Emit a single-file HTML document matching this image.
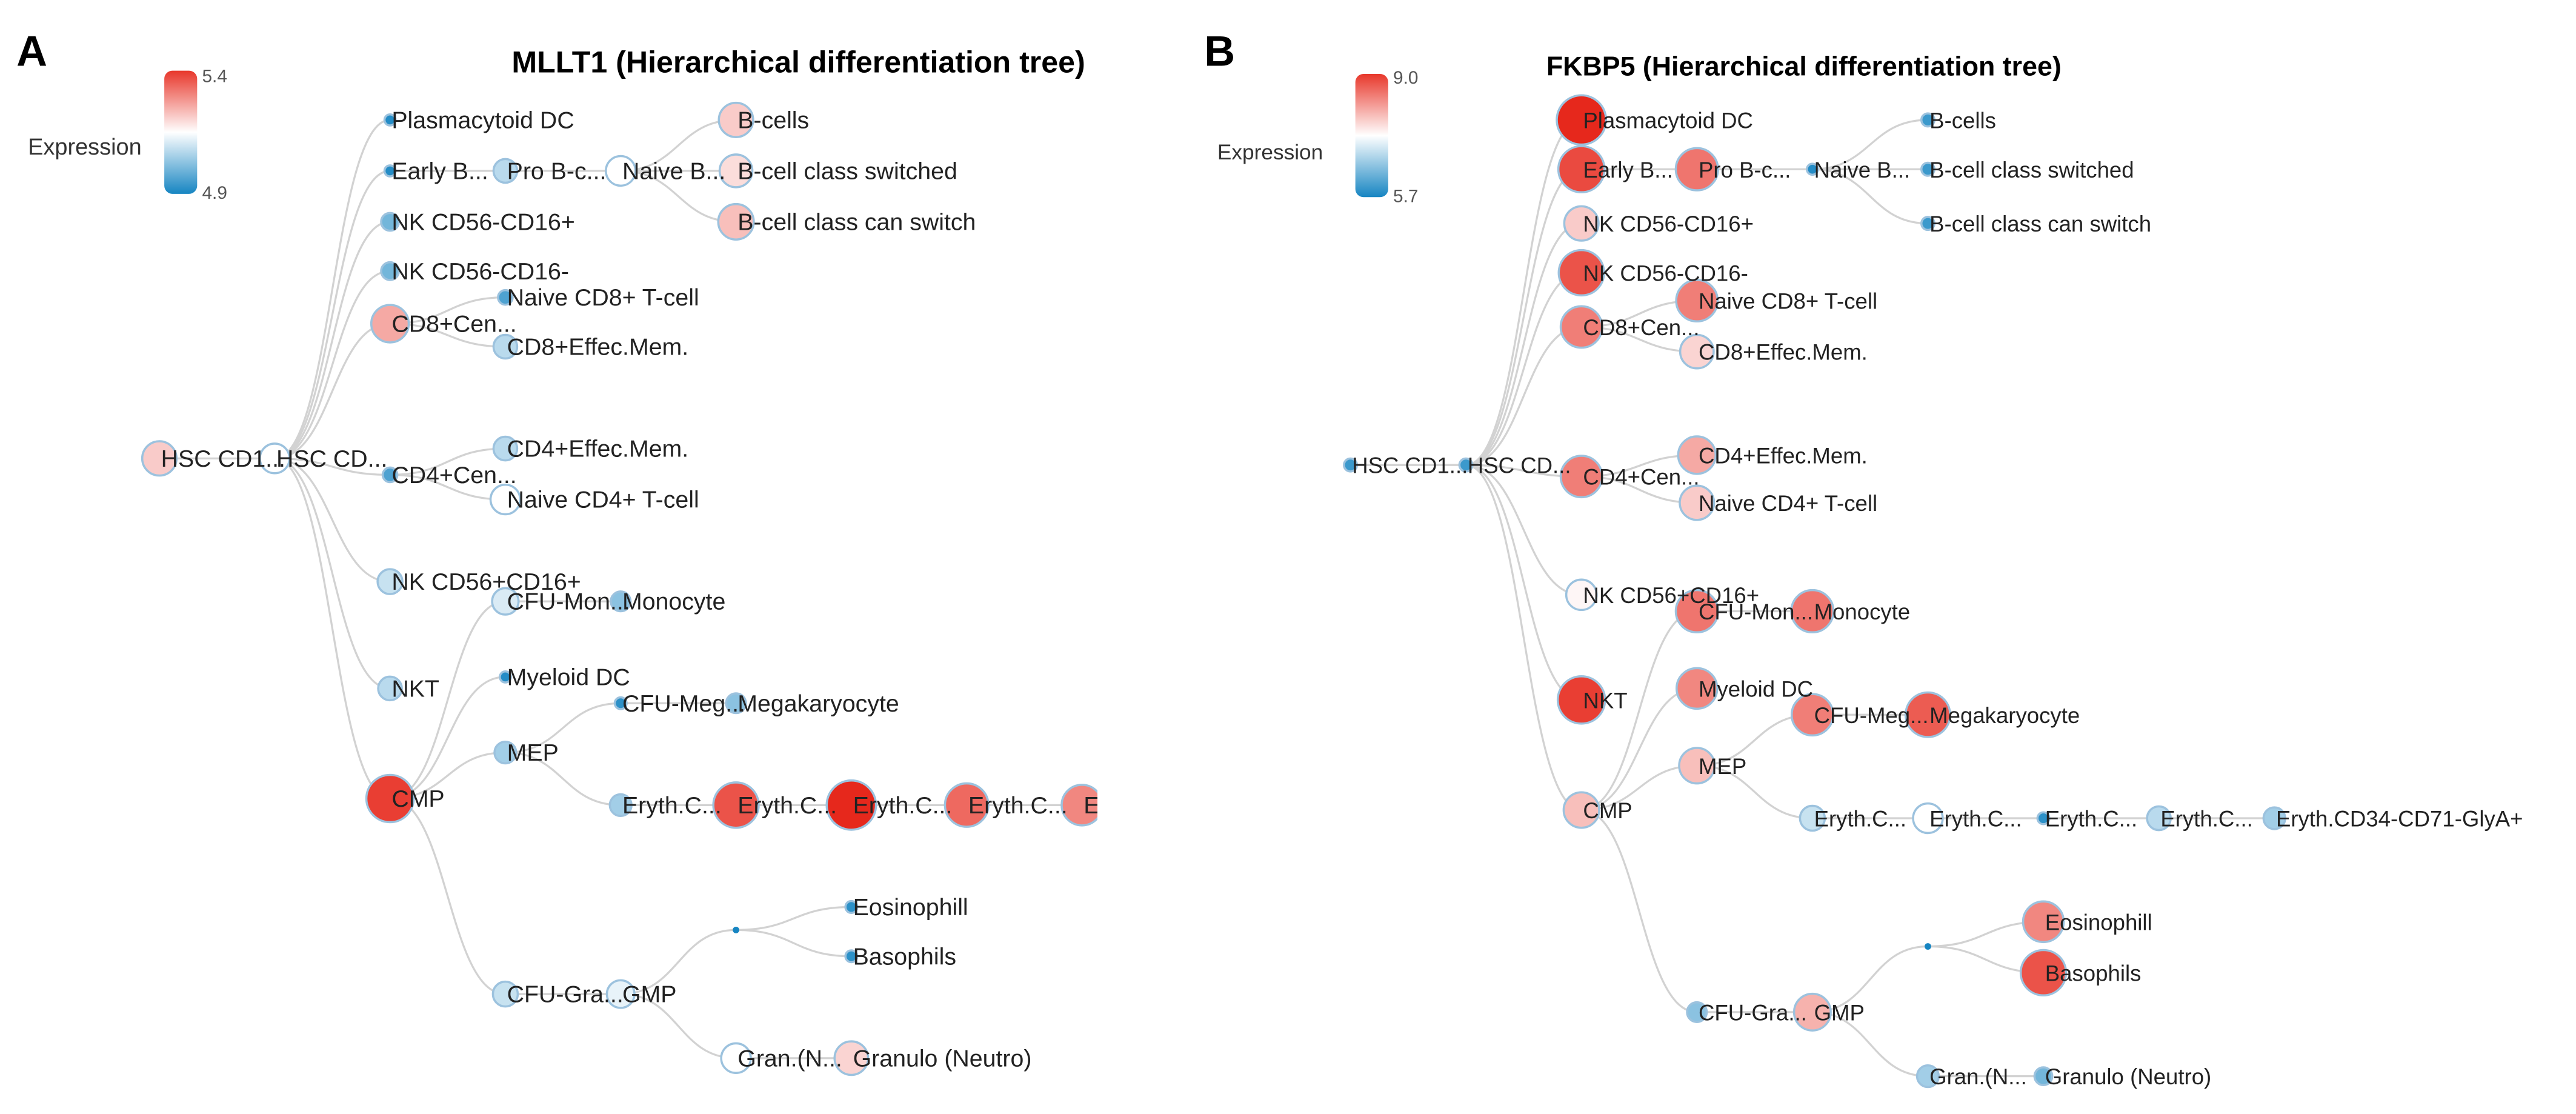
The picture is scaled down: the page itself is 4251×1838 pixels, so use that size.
<!DOCTYPE html>
<html><head><meta charset="utf-8"><style>
html,body{margin:0;padding:0;background:#fff;}
svg{display:block;font-family:"Liberation Sans",sans-serif;}
</style></head><body>
<svg id="chart" width="4251" height="1838" viewBox="0 0 1568 678" preserveAspectRatio="none" xmlns="http://www.w3.org/2000/svg">
<defs>
<linearGradient id="cbar" x1="0" y1="0" x2="0" y2="1">
<stop offset="0" stop-color="#e8372b"/><stop offset="0.5" stop-color="#ffffff"/><stop offset="1" stop-color="#1685c2"/>
</linearGradient>
<clipPath id="clipA"><rect x="0" y="0" width="668" height="678"/></clipPath>
</defs>
<text x="10" y="40" font-size="26" font-weight="bold">A</text>
<text x="733" y="40" font-size="26" font-weight="bold">B</text>
<text x="486" y="44" font-size="18.5" font-weight="bold" text-anchor="middle">MLLT1 (Hierarchical differentiation tree)</text>
<text x="1098" y="46" font-size="16.5" font-weight="bold" text-anchor="middle">FKBP5 (Hierarchical differentiation tree)</text>
<g>
<rect x="100" y="43" width="20" height="75" rx="5" fill="url(#cbar)"/>
<text x="123" y="50" font-size="11" fill="#555">5.4</text>
<text x="123" y="121" font-size="11" fill="#555">4.9</text>
<text x="17" y="94" font-size="14" fill="#333">Expression</text>
</g>
<g>
<rect x="825" y="45" width="20" height="75" rx="5" fill="url(#cbar)"/>
<text x="848" y="51" font-size="11" fill="#555">9.0</text>
<text x="848" y="123" font-size="11" fill="#555">5.7</text>
<text x="741" y="97" font-size="13" fill="#333">Expression</text>
</g>
<g id="treeA" clip-path="url(#clipA)"></g>
<g id="treeB"></g>
</svg>
<script>
const nodeNames=["HSC CD1...","HSC CD...","Plasmacytoid DC","Early B...","Pro B-c...","Naive B...","B-cells","B-cell class switched","B-cell class can switch","NK CD56-CD16+","NK CD56-CD16-","CD8+Cen...","Naive CD8+ T-cell","CD8+Effec.Mem.","CD4+Cen...","CD4+Effec.Mem.","Naive CD4+ T-cell","NK CD56+CD16+","NKT","CMP","CFU-Mon...","Monocyte","Myeloid DC","MEP","CFU-Meg...","Megakaryocyte","Eryth.C...","Eryth.C...","Eryth.C...","Eryth.C...","Eryth.CD34-CD71-GlyA+","CFU-Gra...","GMP","","Eosinophill","Basophils","Gran.(N...","Granulo (Neutro)"];
const parentIdx=[-1,0,1,1,3,4,5,5,5,1,1,1,11,11,1,14,14,1,1,1,19,20,19,19,23,24,23,26,27,28,29,19,31,32,33,33,32,36];
const depth=[0,1,2,2,3,4,5,5,5,2,2,2,3,3,2,3,3,2,2,2,3,4,3,3,4,5,4,5,6,7,8,3,4,5,6,6,5,6];
const rowA=[279,279,73,104,104,104,73,104,135,135,165,197,181,211,289,273,304,354,419,486,366,366,412,458,428,428,490,490,490,490,490,605,605,566,552,582,644,644];
const rowB=[283,283,73,103,103,103,73,103,136,136,166,199,183,214,290,277,306,362,426,493,372,372,419,466,435,435,498,498,498,498,498,616,616,576,561,592,655,655];
const exprA=[0.62,0.5,0.03,0.03,0.35,0.5,0.62,0.58,0.65,0.2,0.2,0.7,0.12,0.35,0.12,0.35,0.5,0.38,0.35,0.95,0.42,0.25,0.03,0.3,0.05,0.25,0.3,0.9,1.0,0.85,0.78,0.38,0.45,0,0.05,0.05,0.5,0.6];
const exprB=[0.08,0.08,1.0,0.92,0.82,0.03,0.08,0.08,0.08,0.62,0.9,0.8,0.8,0.6,0.8,0.7,0.62,0.52,0.95,0.65,0.82,0.82,0.78,0.65,0.8,0.88,0.38,0.5,0.05,0.35,0.3,0.25,0.68,0,0.78,0.9,0.3,0.2];
const NS="http://www.w3.org/2000/svg";
function mix(a,b,t){return a.map((v,i)=>Math.round(v+(b[i]-v)*t));}
function color(t){const blue=[22,133,194],white=[255,255,255],red=[230,40,28];
 const c=t<0.5?mix(blue,white,t/0.5):mix(white,red,(t-0.5)/0.5);return "rgb("+c.join(",")+")";}
function drawTree(gid,x0,dx,rows,vals,fs){
 const g=document.getElementById(gid);
 const X=i=>x0+depth[i]*dx, Y=i=>rows[i];
 for(let i=0;i<nodeNames.length;i++){
  const p=parentIdx[i]; if(p<0) continue;
  const px=X(p),py=Y(p),cx=X(i),cy=Y(i),mx=(px+cx)/2;
  const path=document.createElementNS(NS,"path");
  path.setAttribute("d",`M${px},${py}C${mx},${py} ${mx},${cy} ${cx},${cy}`);
  path.setAttribute("fill","none");path.setAttribute("stroke","#d2d2d2");path.setAttribute("stroke-width","1.2");
  
  
  g.appendChild(path);
 }
 for(let i=0;i<nodeNames.length;i++){
  const t=vals[i];
  const r=nodeNames[i]===""?2:3+12*t;
  const c=document.createElementNS(NS,"circle");
  c.setAttribute("cx",X(i));c.setAttribute("cy",Y(i));c.setAttribute("r",r);
  c.setAttribute("fill",color(t));c.setAttribute("stroke",nodeNames[i]===""?"none":"#9cc2de");c.setAttribute("stroke-width","1.3");
  
  
  g.appendChild(c);
 }
 for(let i=0;i<nodeNames.length;i++){
  if(!nodeNames[i]) continue;
  const tx=document.createElementNS(NS,"text");
  tx.setAttribute("x",X(i)+1);tx.setAttribute("y",Y(i)+5);
  tx.setAttribute("font-size",fs);tx.setAttribute("fill","#222");
  tx.textContent=nodeNames[i];
  
  
  g.appendChild(tx);
 }
}
drawTree("treeA",97,70.2,rowA,exprA,"14.5");
drawTree("treeB",822,70.3,rowB,exprB,"13.5");
</script>
</body></html>
